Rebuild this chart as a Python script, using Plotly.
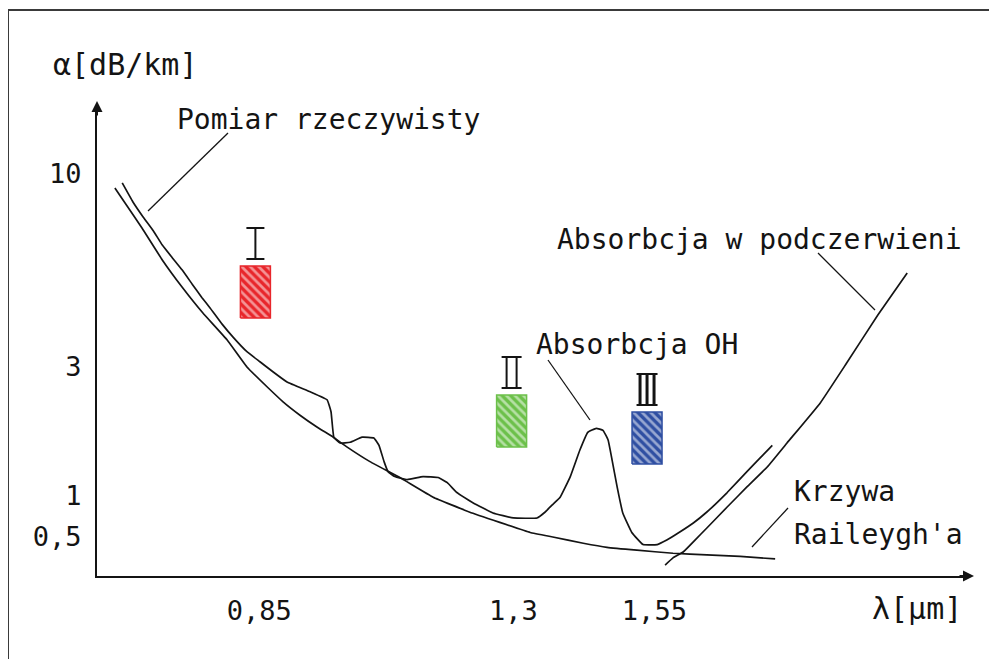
import numpy as np
import plotly.graph_objects as go

# ---------------- data ----------------
# measured attenuation ("Pomiar rzeczywisty")
lam_measured = [0.607, 0.626, 0.644, 0.662, 0.678, 0.695, 0.713, 0.731, 0.748, 0.763,
                0.784, 0.803, 0.828, 0.851, 0.874, 0.899,
                0.940, 0.970, 0.977, 0.982, 0.993, 1.011, 1.032, 1.053, 1.062, 1.071,
                1.078, 1.090, 1.112, 1.140, 1.167, 1.183, 1.200, 1.229, 1.264, 1.300,
                1.342, 1.356, 1.369, 1.383, 1.401, 1.418, 1.432, 1.447, 1.459, 1.468,
                1.475, 1.484, 1.494, 1.510, 1.530, 1.555, 1.572, 1.595, 1.619, 1.643,
                1.679, 1.714, 1.737, 1.759]
att_measured = [9.46, 8.40, 7.65, 7.02, 6.42, 5.95, 5.50, 5.03, 4.63, 4.33,
                3.92, 3.62, 3.30, 3.10, 2.88, 2.64,
                2.43, 2.27, 2.05, 1.65, 1.57, 1.58, 1.65, 1.64, 1.54, 1.34,
                1.23, 1.18, 1.15, 1.18, 1.17, 1.12, 1.03, 0.89, 0.75, 0.69,
                0.69, 0.76, 0.86, 0.98, 1.18, 1.48, 1.72, 1.78, 1.75, 1.61,
                1.36, 1.08, 0.75, 0.54, 0.44, 0.44, 0.475, 0.544, 0.634, 0.763,
                1.03, 1.23, 1.38, 1.54]

# Rayleigh scattering curve
lam_rayleigh = [0.594, 0.612, 0.642, 0.678, 0.713, 0.750, 0.793, 0.828, 0.864, 0.892,
                0.922, 0.952, 0.981, 1.005, 1.046, 1.099, 1.158, 1.223, 1.276, 1.330,
                1.370, 1.424, 1.466, 1.519, 1.583, 1.643, 1.702, 1.764]
att_rayleigh = [9.16, 8.35, 7.14, 5.85, 4.94, 4.20, 3.55, 3.00, 2.53, 2.23,
                1.99, 1.80, 1.65, 1.52, 1.34, 1.17, 0.98, 0.76, 0.64, 0.54,
                0.50, 0.45, 0.42, 0.40, 0.38, 0.37, 0.36, 0.345]

# infrared absorption
lam_ir = [1.569, 1.583, 1.601, 1.622, 1.643, 1.679, 1.714, 1.750, 1.785, 1.844,
          1.891, 1.946, 1.998]
att_ir = [0.311, 0.351, 0.388, 0.475, 0.582, 0.830, 1.08, 1.28, 1.57, 2.21,
          3.08, 4.15, 5.39]

tick_att = [0.5, 1, 3, 10]
tick_att_text = ["0,5", "1", "3", "10"]
tick_lam = [0.85, 1.3, 1.55]
tick_lam_text = ["0,85", "1,3", "1,55"]

window_lam = [0.843, 1.297, 1.537]
window_names = ["I", "II", "III"]
window_colors = ["#e8262b", "#6cc04a", "#2f4fa2"]

# ---------------- layout constants ----------------
TICK_POS = [39, 80, 209, 402]          # positions of the tick values on the drawn axis
Y_RANGE = [0, 471]
X_RANGE = [0.5623, 2.1093]
PAGE_OFF = 8                            # the page body margin
W, H = 997 - PAGE_OFF, 659 - PAGE_OFF
L, R, T, B = 97 - PAGE_OFF, 27, 105 - PAGE_OFF, 83
PW, PH = W - L - R, H - T - B
PX_PER_LAM = PW / (X_RANGE[1] - X_RANGE[0])
ORIGIN = (97, 576)                      # where the axes meet on screen


def ypos(v):
    lv = np.log10(np.asarray(v, float))
    lt = np.log10(tick_att)
    out = np.interp(lv, lt, TICK_POS)
    s_lo = (TICK_POS[1] - TICK_POS[0]) / (lt[1] - lt[0])
    s_hi = (TICK_POS[-1] - TICK_POS[-2]) / (lt[-1] - lt[-2])
    out = np.where(lv < lt[0], TICK_POS[0] + (lv - lt[0]) * s_lo, out)
    out = np.where(lv > lt[-1], TICK_POS[-1] + (lv - lt[-1]) * s_hi, out)
    return out


def P(px, py):
    """screen pixel -> paper coordinates"""
    return (px - ORIGIN[0]) / PW, (ORIGIN[1] - py) / PH


FONT = "DejaVu Sans Mono"
INK = "#141414"

fig = go.Figure()

line_style = dict(color=INK, width=1.7, shape="spline", smoothing=0.3)
for lam, att in [(lam_rayleigh, att_rayleigh), (lam_measured, att_measured), (lam_ir, att_ir)]:
    fig.add_trace(go.Scatter(x=lam, y=ypos(att), mode="lines", line=line_style,
                             hoverinfo="skip", showlegend=False, cliponaxis=False))

# transmission windows: hatched boxes
BOX_W = 30 / PX_PER_LAM
BOX_H = 52
box_bottom = [258, 129, 112]
for lam, yb, col in zip(window_lam, box_bottom, window_colors):
    x0, x1 = lam - BOX_W / 2, lam + BOX_W / 2
    fig.add_trace(go.Scatter(
        x=[x0, x1, x1, x0, x0], y=[yb, yb, yb + BOX_H, yb + BOX_H, yb],
        mode="lines", fill="toself", fillcolor=col,
        fillpattern=dict(shape="\\", fgcolor="white", bgcolor=col, size=6, solidity=0.45),
        line=dict(color=col, width=1.5), hoverinfo="skip", showlegend=False))

shapes = []
# roman numerals with bars
bar_w = [18, 20, 21]
stroke_gap = [0, 10, 7]
stroke_w = [2, 2, 3]
for lam, yb, name, bw, gap, sw in zip(window_lam, box_bottom, window_names, bar_w, stroke_gap, stroke_w):
    y0 = yb + BOX_H + 7
    y1 = y0 + 31
    hw = bw / 2 / PX_PER_LAM
    for yy in (y0, y1):
        shapes.append(dict(type="line", xref="x", yref="y", x0=lam - hw, x1=lam + hw,
                           y0=yy, y1=yy, line=dict(color=INK, width=2)))
    n = len(name)
    for k in range(n):
        off = (k - (n - 1) / 2) * gap / PX_PER_LAM
        shapes.append(dict(type="line", xref="x", yref="y", x0=lam + off, x1=lam + off,
                           y0=y0, y1=y1, line=dict(color=INK, width=sw)))

# outer frame (top and left edges)
fx0, fy0 = P(8, 10)
fx1, fy1 = P(997, 659)
shapes.append(dict(type="line", xref="paper", yref="paper", x0=fx0, x1=fx1, y0=fy0, y1=fy0,
                   line=dict(color="#3a3a3a", width=2)))
shapes.append(dict(type="line", xref="paper", yref="paper", x0=fx0, x1=fx0, y0=fy0, y1=fy1,
                   line=dict(color="#3a3a3a", width=2)))

# leader lines
leaders = [((228, 133), (148, 211)), ((818, 253), (875, 310)),
           ((548, 360), (590, 420)), ((788, 508), (752, 547))]
for a, b in leaders:
    ax_, ay_ = P(*a)
    bx_, by_ = P(*b)
    shapes.append(dict(type="line", xref="paper", yref="paper", x0=ax_, y0=ay_, x1=bx_, y1=by_,
                       line=dict(color=INK, width=1.3)))

annotations = []


def label(text, px, py, size=28, anchor="center"):
    x, y = P(px, py)
    annotations.append(dict(text=text, x=x, y=y, xref="paper", yref="paper",
                            xanchor=anchor, yanchor="middle", showarrow=False,
                            font=dict(family=FONT, size=size, color=INK)))


label("α[dB/km]", 125, 64, size=30)
label("Pomiar rzeczywisty", 328, 119)
label("Absorbcja w podczerwieni", 759, 239)
label("Absorbcja OH", 637, 344)
label("Krzywa", 792, 491, anchor="left")
label("Raileygh'a", 792, 534, anchor="left")
label("λ[μm]", 917, 608, size=30)

# axis arrowheads
tx, ty = P(97, 101)
annotations.append(dict(text="", x=tx, y=ty, xref="paper", yref="paper", showarrow=True,
                        ax=0, ay=16, arrowhead=2, arrowsize=1.1, arrowwidth=2, arrowcolor=INK))
tx, ty = P(974, 576)
annotations.append(dict(text="", x=tx, y=ty, xref="paper", yref="paper", showarrow=True,
                        ax=-16, ay=0, arrowhead=2, arrowsize=1.1, arrowwidth=2, arrowcolor=INK))

fig.update_layout(
    width=W, height=H, margin=dict(l=L, r=R, t=T, b=B),
    paper_bgcolor="white", plot_bgcolor="white",
    shapes=shapes, annotations=annotations, showlegend=False,
    xaxis=dict(range=X_RANGE, showgrid=False, zeroline=False, showline=True, linewidth=2,
               linecolor=INK, tickmode="array", tickvals=tick_lam, ticktext=tick_lam_text,
               ticks="", ticklabelstandoff=10, fixedrange=True,
               tickfont=dict(family=FONT, size=27, color=INK)),
    yaxis=dict(range=Y_RANGE, showgrid=False, zeroline=False, showline=True, linewidth=2,
               linecolor=INK, tickmode="array", tickvals=TICK_POS, ticktext=tick_att_text,
               ticks="", ticklabelstandoff=8, fixedrange=True,
               tickfont=dict(family=FONT, size=27, color=INK)),
)

fig.write_html("out.html")
